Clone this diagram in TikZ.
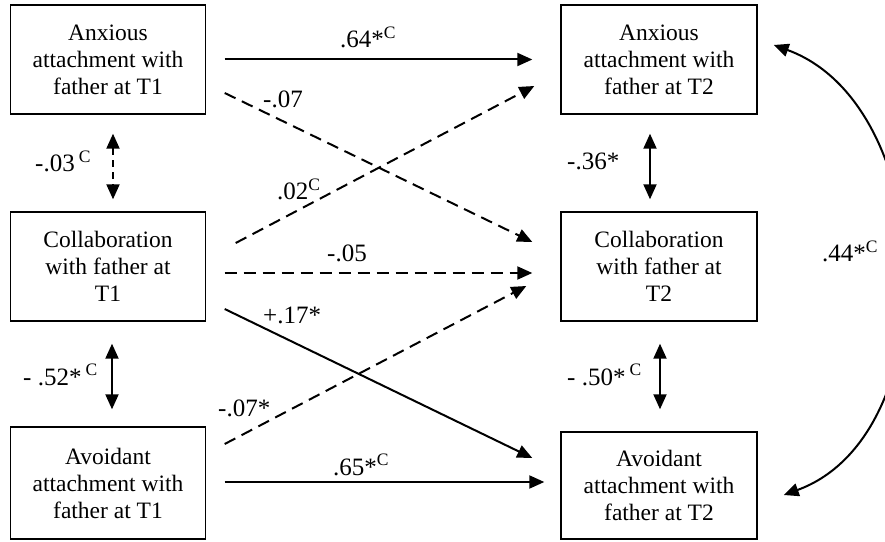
\documentclass[tikz,border=0pt]{standalone}
\usepackage{fontspec}
\setmainfont{Liberation Serif}
\usetikzlibrary{arrows.meta,calc}

\newcommand{\supC}{\textsuperscript{C}}

\begin{document}
\begin{tikzpicture}[x=1pt,y=1pt,
  box/.style={draw,line width=1.4pt,minimum width=195pt,minimum height=109pt,align=center,inner sep=2pt,font=\fontsize{23.5}{27}\selectfont},
  coef/.style={anchor=base west,inner sep=0pt,font=\fontsize{25}{28}\selectfont},
  sig/.style={line width=2pt,-{Triangle[length=15pt,width=13pt]}},
  nsig/.style={sig,dash pattern=on 12pt off 7pt},
  cor/.style={line width=2pt,{Triangle[length=15pt,width=13pt]}-{Triangle[length=15pt,width=13pt]}}]
\useasboundingbox (0,0) rectangle (885,541);
\node[box] (anx1) at (108,481.5) {Anxious\\attachment with\\father at T1};
\node[box] (col1) at (108,274.5) {Collaboration\\with father at\\T1};
\node[box,minimum height=112pt] (avo1) at (108,58) {Avoidant\\attachment with\\father at T1};
\node[box,minimum width=196pt] (anx2) at (659,481.5) {Anxious\\attachment with\\father at T2};
\node[box,minimum width=196pt] (col2) at (659,274.5) {Collaboration\\with father at\\T2};
\node[box,minimum width=196pt,minimum height=107pt] (avo2) at (659,55.5) {Avoidant\\attachment with\\father at T2};
\draw[sig] ($(anx1.east)+(18.5,0)$) -- ($(anx2.west)+(-28,0)$);
\draw[nsig] ($(anx1.east)+(18.5,-33.5)$) -- ($(col2.west)+(-28,24.5)$);
\draw[nsig] ($(col1.east)+(29.5,23.5)$) -- ($(anx2.west)+(-26,-26.5)$);
\draw[nsig] ($(col1.east)+(18.5,-6.5)$) -- ($(col2.west)+(-28,-6.5)$);
\draw[sig] ($(col1.east)+(18.5,-42.5)$) -- ($(avo2.west)+(-28,27.5)$);
\draw[nsig] ($(avo1.east)+(18.5,39)$) -- ($(col2.west)+(-34,-19.5)$);
\draw[sig] ($(avo1.east)+(18.5,1)$) -- ($(avo2.west)+(-16,3.5)$);
\draw[cor,dash pattern=on 7pt off 5pt] ($(anx1.south)+(5,-19)$) -- ($(col1.north)+(5,12)$);
\draw[cor] ($(col1.south)+(4,-22)$) -- ($(avo1.north)+(4,17)$);
\draw[cor] ($(anx2.south)+(-9,-19)$) -- ($(col2.north)+(-9,12)$);
\draw[cor] ($(col2.south)+(1,-22)$) -- ($(avo2.north)+(1,22)$);
\draw[cor] ($(anx2.east)+(16,14.5)$) to[out=-20,in=20] ($(avo2.east)+(26,-9.5)$);
\node[coef] (c64) at (340,493) {.64*\supC};
\node[coef] (c07) at (263,433) {-.07};
\node[coef] (c02) at (277,341) {.02\supC};
\node[coef] (c05) at (327,279) {-.05};
\node[coef] (c17) at (263,218) {+.17*};
\node[coef] (c07s) at (218,125) {-.07*};
\node[coef] (c65) at (333,66) {.65*\supC};
\node[coef] (c03) at (35,369) {-.03\,\supC};
\node[coef] (c52) at (23,156) {- .52*\,\supC};
\node[coef] (c36) at (567,371) {-.36*};
\node[coef] (c50) at (567,156) {- .50*\,\supC};
\node[coef] (c44) at (822,279) {.44*\supC};
\end{tikzpicture}
\end{document}
